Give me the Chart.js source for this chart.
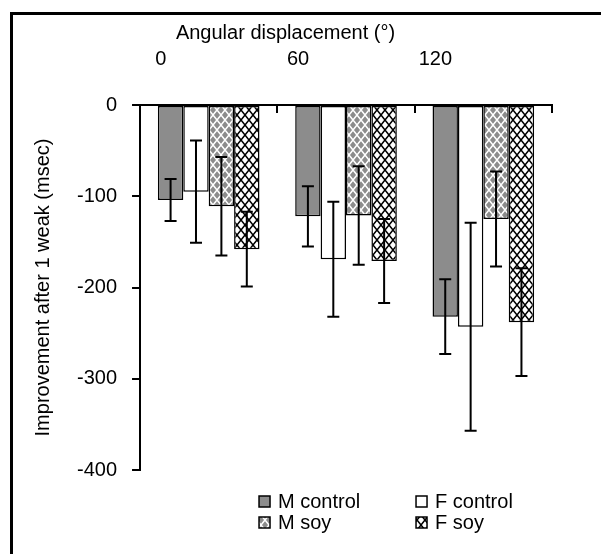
<!DOCTYPE html>
<html>
<head>
<meta charset="utf-8">
<script src="https://cdn.jsdelivr.net/npm/chart.js@4.4.1/dist/chart.umd.min.js"></script>
<style>
    html, body { margin: 0; padding: 0; background: #fff; overflow: hidden; }
    #frame { position: absolute; left: 10px; top: 12px; width: 640px; height: 600px; border: 3px solid #000; }
    #myChart { position: absolute; left: 0; top: 0; }
</style>
</head>
<body>
<div id="frame"><canvas id="myChart" width="546" height="539"></canvas></div>
<script>
// categories (angular displacement)
const categories = ['0', '60', '120']

// bar values and error bar half-lengths (msec)
const mControl = [-104, -122, -232]
const mControlErr = [23, 33, 41]
const fControl = [-95, -169, -243]
const fControlErr = [56, 63, 114]
const mSoy = [-111, -121, -125]
const mSoyErr = [54, 54, 52]
const fSoy = [-158, -171, -238]
const fSoyErr = [41, 46, 59]

const yTicks = [0, -100, -200, -300, -400]

const fontFamily = '"Liberation Sans", Arial, sans-serif'
Chart.defaults.font.family = fontFamily
Chart.defaults.font.size = 20
Chart.defaults.color = '#000'

// cross-hatch fills
function makePattern(bg, line) {
    const c = document.createElement('canvas')
    c.width = 8
    c.height = 10
    const p = c.getContext('2d')
    p.fillStyle = bg
    p.fillRect(0, 0, 8, 10)
    p.strokeStyle = line
    p.lineWidth = 1.5
    p.beginPath()
    p.moveTo(0, 0); p.lineTo(8, 10)
    p.moveTo(8, 0); p.lineTo(0, 10)
    p.stroke()
    return p.createPattern(c, 'repeat')
}

const gray = '#8c8c8c'
const mSoyFill = makePattern(gray, '#fff')
const fSoyFill = makePattern('#fff', '#000')

// error bars drawn on top of bars
const errorBars = {
    id: 'errorBars',
    afterDatasetsDraw(chart) {
        const { ctx, scales: { y } } = chart
        ctx.save()
        ctx.strokeStyle = '#000'
        ctx.lineWidth = 2
        chart.data.datasets.forEach((ds, i) => {
            chart.getDatasetMeta(i).data.forEach((bar, j) => {
                const v = ds.data[j], e = ds.errors[j]
                const top = y.getPixelForValue(v + e)
                const bot = y.getPixelForValue(v - e)
                ctx.beginPath()
                ctx.moveTo(bar.x, top); ctx.lineTo(bar.x, bot)
                ctx.moveTo(bar.x - 6, top); ctx.lineTo(bar.x + 6, top)
                ctx.moveTo(bar.x - 6, bot); ctx.lineTo(bar.x + 6, bot)
                ctx.stroke()
            })
        })
        ctx.restore()
    }
}

// 2 x 2 legend under the plot
const gridLegend = {
    id: 'gridLegend',
    afterDraw(chart) {
        const { ctx, chartArea } = chart
        const cols = [chartArea.left + 119, chartArea.left + 276]
        const rows = [chartArea.bottom + 32, chartArea.bottom + 53]
        ctx.save()
        ctx.font = '20px ' + fontFamily
        ctx.textBaseline = 'middle'
        ctx.fillStyle = '#000'
        chart.data.datasets.forEach((ds, i) => {
            const x = cols[i % 2], yy = rows[Math.floor(i / 2)]
            ctx.fillStyle = ds.backgroundColor
            ctx.fillRect(x, yy - 6, 11, 11)
            ctx.strokeStyle = '#000'
            ctx.lineWidth = 1.5
            ctx.strokeRect(x, yy - 6, 11, 11)
            ctx.fillStyle = '#000'
            ctx.fillText(ds.label, x + 19, yy)
        })
        ctx.restore()
    }
}

const ctx = document.getElementById('myChart').getContext('2d')

const myChart = new Chart(ctx, {
    type: 'bar',
    data: {
        labels: categories,
        datasets: [
            { label: 'M control', data: mControl, errors: mControlErr, backgroundColor: gray },
            { label: 'F control', data: fControl, errors: fControlErr, backgroundColor: '#fff' },
            { label: 'M soy', data: mSoy, errors: mSoyErr, backgroundColor: mSoyFill },
            { label: 'F soy', data: fSoy, errors: fSoyErr, backgroundColor: fSoyFill }
        ]
    },
    options: {
        responsive: false,
        animation: false,
        categoryPercentage: 0.74,
        barPercentage: 1.0,
        borderColor: '#000',
        borderWidth: 1.5,
        borderSkipped: false,
        layout: {
            padding: { left: 6, right: 7, top: 6, bottom: 84 }
        },
        scales: {
            x: {
                position: 'top',
                offset: true,
                afterFit: (scale) => { scale.height = 58 },
                grid: { offset: true, drawOnChartArea: false, tickLength: -8, color: '#000', lineWidth: 2 },
                border: { color: '#000', width: 2 },
                ticks: { padding: 42, labelOffset: -48, color: '#000' }
            },
            y: {
                min: -400,
                max: 0,
                afterBuildTicks: (scale) => { scale.ticks = yTicks.map(v => ({ value: v })) },
                ticks: { padding: 15, color: '#000' },
                grid: { drawOnChartArea: false, tickLength: 8, color: '#000', lineWidth: 2 },
                border: { color: '#000', width: 2 },
                title: {
                    display: true,
                    text: 'Improvement after 1 weak (msec)',
                    color: '#000',
                    padding: { top: 12, bottom: 7 }
                }
            }
        },
        plugins: {
            legend: { display: false },
            tooltip: { enabled: false },
            title: {
                display: true,
                text: 'Angular displacement (°)',
                color: '#000',
                font: { size: 20, weight: 'normal' },
                padding: { top: 0, bottom: 2 }
            }
        }
    },
    plugins: [errorBars, gridLegend]
})
</script>
</body>
</html>
